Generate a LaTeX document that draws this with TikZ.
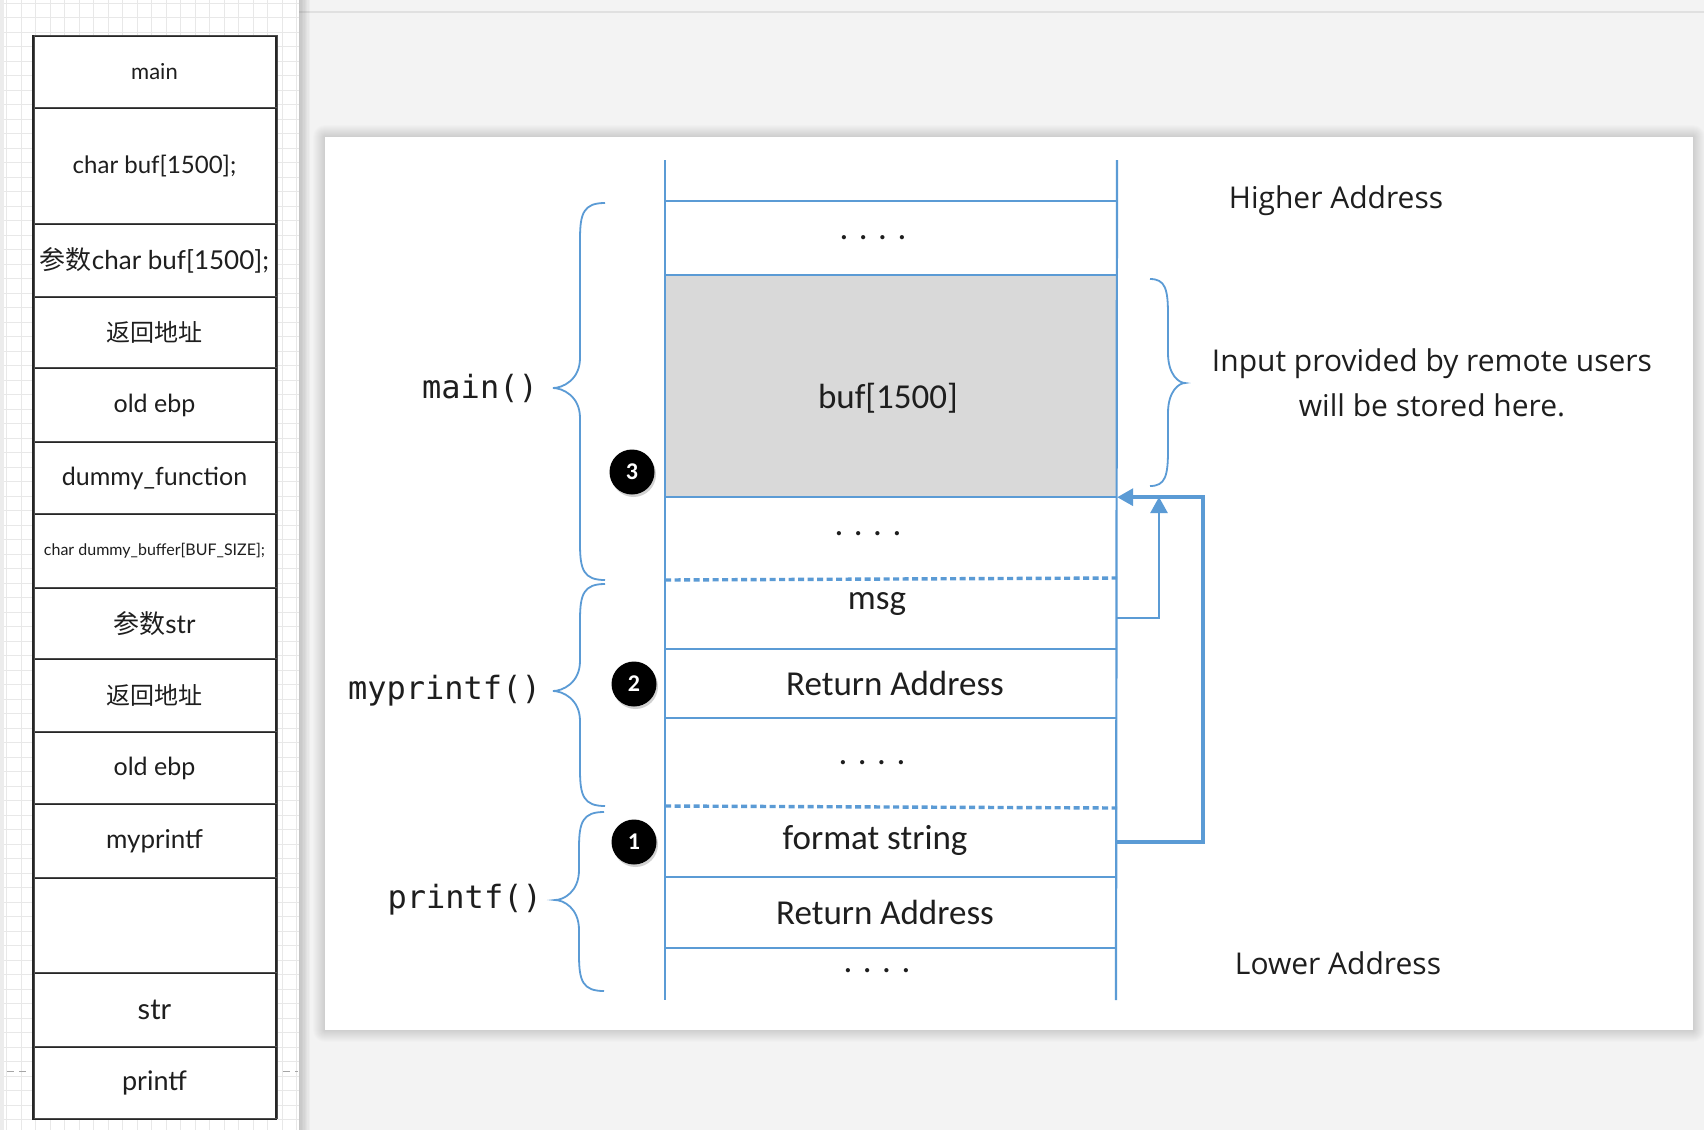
\documentclass[tikz,border=0pt]{standalone}
\usepackage{fontspec}
\setmainfont{Carlito}
\newfontfamily\cjk{Noto Sans CJK SC}
\newfontfamily\monof{DejaVu Sans Mono}
\newfontfamily\opensf{Open Sans}
\newfontfamily\sketchf{Lato}
\usetikzlibrary{arrows.meta,calc}
\definecolor{obl}{HTML}{5B9BD5}
\definecolor{gfill}{HTML}{D9D9D9}
\definecolor{bgc}{HTML}{F3F3F3}
\definecolor{topc}{HTML}{E0E0E0}
\definecolor{gridc}{HTML}{E8E8E8}
\definecolor{edgec}{HTML}{ECECEC}
\definecolor{txtc}{HTML}{1E1E1E}
% #1 end x, #2 stem x, #3 tip x, #4 top y, #5 tip y, #6 bottom y
\newcommand\stackbrace[6]{%
  \draw[brc] (#1,#4) .. controls ({#2+0.15*(#1-#2)},#4) and (#2,{#4+10}) .. (#2,{#4+36})
    -- (#2,{#5-30}) .. controls (#2,{#5-8}) and ({#3+0.35*(#2-#3)},#5) .. (#3,#5)
    .. controls ({#3+0.35*(#2-#3)},#5) and (#2,{#5+8}) .. (#2,{#5+30})
    -- (#2,{#6-36}) .. controls (#2,{#6-10}) and ({#2+0.15*(#1-#2)},#6) .. (#1,#6);}
\tikzset{
  gridl/.style={draw=gridc, line width=1pt},
  sk/.style={draw=black!85, fill=white, line width=1.1pt, minimum width=243pt, inner sep=0pt,
    font=\sketchf\fontsize{24}{28}\selectfont, text=txtc,
    postaction={draw=black!70, line width=0.6pt, transform canvas={xshift=0.9pt,yshift=1.2pt}}},
  colv/.style={draw=obl, line width=2.2pt},
  rowl/.style={draw=obl, line width=2.8pt},
  dotl/.style={draw=obl, line width=3.4pt, dash pattern=on 6pt off 3.5pt},
  cellgeo/.style={inner sep=0pt, minimum width=452pt, draw=none},
  celltxt/.style={inner sep=0pt, font=\fontsize{35}{40}\selectfont, text=txtc},
  dotstxt/.style={inner sep=0pt, anchor=base, font=\fontsize{35}{40}\selectfont, text=txtc},
  fnlab/.style={inner sep=0pt, anchor=east, font=\monof\fontsize{32}{36}\selectfont, text=txtc},
  sidetxt/.style={inner sep=0pt, font=\opensf\fontsize{30}{34}\selectfont, text=txtc},
  numc/.style={circle, fill=black, text=white, minimum size=45pt, inner sep=0pt,
    font=\bfseries\fontsize{24}{24}\selectfont,
    preaction={fill=black, opacity=0.18, transform canvas={xshift=1.5pt,yshift=-2.5pt}}},
  brc/.style={draw=obl, line width=1.8pt},
  arr/.style={draw=obl, -{Triangle[length=16pt,width=17pt]}},
}
\begin{document}
\begin{tikzpicture}[x=1pt,y=-1pt]
\useasboundingbox (0,0) rectangle (1704,1130);
% ---------- left panel (canvas with grid) ----------
\fill[white] (0,0) rectangle (299,1130);
\fill[edgec] (0,0) rectangle (4,1130);
\foreach \gx in {0,...,20} \draw[gridl] ({6.7+14.5*\gx},0) -- ({6.7+14.5*\gx},1130);
\foreach \gy in {0,...,77} \draw[gridl] (4,{3+14.5*\gy}) -- (299,{3+14.5*\gy});
\draw[black!35, line width=1pt, dash pattern=on 7pt off 5pt] (7,1071) -- (29,1071);
\draw[black!35, line width=1pt, dash pattern=on 7pt off 5pt] (283,1071) -- (298,1071);
% ---------- right background ----------
\fill[bgc] (299,0) rectangle (1704,1130);
\draw[topc, line width=1.2pt] (299,12) -- (1704,12);
\foreach \i in {1,...,8} \fill[black, opacity=0.025] (299,0) rectangle ({299+1.4*\i},1130);
% card shadow and card
\foreach \i in {1,...,12} \fill[black, opacity=0.012, rounded corners={\i pt}] ({325-\i},{137-\i}) rectangle ({1693+\i},{1030+\i});
\fill[white] (325,137) rectangle (1693,1030);
% ---------- left sketch boxes ----------
\node[sk, minimum height=72pt] (b1) at (154.5,72) {\fontsize{22}{26}\selectfont main};
\node[sk, minimum height=116pt] (b2) at (154.5,166) {char buf[1500];};
\node[sk, minimum height=73pt] (b3) at (154.5,260.5) {\fontsize{26}{30}\selectfont{\cjk 参数}char buf[1500];};
\node[sk, minimum height=71pt] (b4) at (154.5,332.5) {{\cjk\fontsize{24}{28}\selectfont 返回地址}};
\node[sk, minimum height=74pt] (b5) at (154.5,405) {\fontsize{25}{28}\selectfont old ebp};
\node[sk, minimum height=72pt] (b6) at (154.5,478) {\fontsize{25}{28}\selectfont dummy\_function};
\node[sk, minimum height=74pt] (b7) at (154.5,551) {\fontsize{16}{18}\selectfont char dummy\_buffer[BUF\_SIZE];};
\node[sk, minimum height=71pt] (b8) at (154.5,623.5) {\fontsize{26}{30}\selectfont{\cjk 参数}str};
\node[sk, minimum height=73pt] (b9) at (154.5,695.5) {{\cjk\fontsize{24}{28}\selectfont 返回地址}};
\node[sk, minimum height=72pt] (b10) at (154.5,768) {\fontsize{25}{28}\selectfont old ebp};
\node[sk, minimum height=74pt] (b11) at (154.5,841) {\fontsize{26}{30}\selectfont myprintf};
\node[sk, minimum height=95pt] (b12) at (154.5,925.5) {};
\node[sk, minimum height=74pt] (b13) at (154.5,1010) {\fontsize{29}{32}\selectfont str};
\node[sk, minimum height=72pt] (b14) at (154.5,1083) {\fontsize{27}{30}\selectfont printf};
% ---------- stack column ----------
\fill[gfill] (665,275) rectangle (1117,497);
\node[cellgeo, minimum height=222pt] (bufc) at (891,386) {};
\node[cellgeo, minimum height=70pt] (msgc) at (891,614) {};
\node[cellgeo, minimum height=70pt] (fmtc) at (891,842) {};
\draw[rowl] (665,201) -- (1117,201);
\draw[rowl] (665,275) -- (1117,275);
\draw[rowl] (665,497) -- (1117,497);
\draw[dotl] (665,580) -- (1117,578);
\draw[rowl] (665,649) -- (1117,649);
\draw[rowl] (665,718) -- (1117,718);
\draw[dotl] (665,806) -- (1117,808);
\draw[rowl] (665,877) -- (1117,877);
\draw[rowl] (665,948) -- (1117,948);
\draw[colv] (665,160) -- (665,1000);
\draw[colv] (1117,160) -- (1116,1000);
% cell texts
\node[dotstxt] (d1) at (873,239) {. . . .};
\node[celltxt] (tbuf) at (888,398) {buf[1500]};
\node[dotstxt] (d2) at (868,535) {. . . .};
\node[celltxt] (tmsg) at (877,604) {msg};
\node[celltxt] (tra1) at (895,683) {Return Address};
\node[dotstxt] (d3) at (872,764) {. . . .};
\node[celltxt] (tfmt) at (875,840) {format string};
\node[celltxt] (tra2) at (885,912) {Return Address};
\node[dotstxt] (d4) at (877,972) {. . . .};
% numbered markers
\node[numc] (n3) at (632,472) {3};
\node[numc] (n2) at (634,684) {2};
\node[numc] (n1) at (634,842) {1};
% braces
\stackbrace{605}{580}{553}{203}{388}{580}
\stackbrace{605}{580}{553}{584}{691}{806}
\stackbrace{604}{579}{555}{812}{900}{991}
\stackbrace{1150}{1168}{1185}{279}{383}{486}
% function labels
\node[fnlab] (lmain) at (538,388) {main()};
\node[fnlab] (lmyp) at (541,691) {myprintf()};
\node[fnlab] (lpf) at (542,900) {printf()};
% side texts
\node[sidetxt] (hi) at (1336,201) {Higher Address};
\node[sidetxt] (in1) at (1432,364) {Input provided by remote users};
\node[sidetxt] (in2) at (1432,405) {will be stored here.};
\node[sidetxt] (lo) at (1338,963) {Lower Address};
% arrows
\coordinate (innerTip) at (1159,497);
\draw[arr, line width=2.5pt] ([yshift=-4pt]msgc.east) -| (innerTip);
\draw[arr, line width=3.5pt] (fmtc.east) -- ++(86,0) |- (bufc.south east);
\end{tikzpicture}
\end{document}
